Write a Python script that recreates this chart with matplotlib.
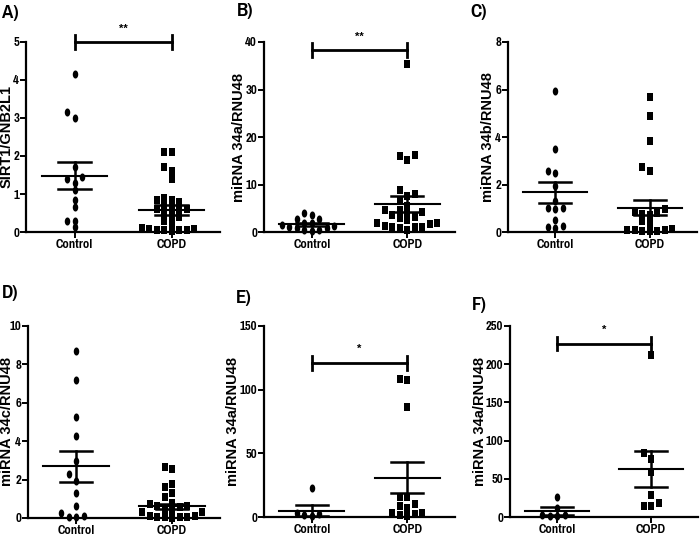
"""Column scatter plots (mean +/- SEM) for SIRT1 and miRNA-34 levels, Control vs COPD."""

import matplotlib
matplotlib.use("Agg")
import matplotlib.pyplot as plt
import numpy as np
from matplotlib import font_manager
from matplotlib.path import Path


GROUPS = ["Control", "COPD"]

# Panel A: SIRT1/GNB2L1
A_CONTROL = [4.15, 3.15, 3.0, 1.7, 1.45, 1.4, 1.3, 1.1, 0.85, 0.65, 0.3, 0.3, 0.12]
A_COPD = [2.1, 2.1, 1.7, 1.6, 1.4, 0.9, 0.85, 0.85, 0.8, 0.7, 0.65, 0.6, 0.6, 0.6,
          0.5, 0.45, 0.4, 0.3, 0.25, 0.1, 0.08, 0.07, 0.06, 0.05, 0.05, 0.04, 0.03]
A_MEAN = [1.48, 0.59]
A_SEM = [0.35, 0.13]

# Panel B: miRNA 34a/RNU48
B_CONTROL = [3.9, 3.5, 2.8, 2.7, 2.0, 1.8, 1.5, 1.2, 1.0, 0.9, 0.8, 0.5, 0.4, 0.3]
B_COPD = [35.3, 16.3, 15.9, 15.2, 8.8, 8.1, 7.6, 6.7, 5.5, 4.6, 4.6, 4.2, 4.0,
          3.5, 3.2, 3.0, 2.5, 1.9, 1.8, 1.7, 1.2, 1.1, 1.0, 1.0, 0.9, 0.5]
B_MEAN = [1.6, 5.9]
B_SEM = [0.35, 1.7]

# Panel C: miRNA 34b/RNU48
C_CONTROL = [5.95, 3.5, 2.55, 2.5, 1.95, 1.3, 1.0, 1.0, 0.95, 0.5, 0.25, 0.15, 0.2]
C_COPD = [5.7, 4.9, 3.85, 2.75, 2.55, 0.95, 0.85, 0.8, 0.75, 0.7, 0.45, 0.4,
          0.12, 0.1, 0.08, 0.07, 0.06, 0.05, 0.04]
C_MEAN = [1.67, 1.02]
C_SEM = [0.45, 0.32]

# Panel D: miRNA 34c/RNU48
D_CONTROL = [8.7, 7.2, 5.25, 4.25, 2.95, 2.3, 1.95, 1.3, 0.6, 0.08, 0.05, 0.07, 0.25]
D_COPD = [2.65, 2.55, 1.75, 1.6, 1.3, 1.1, 0.8, 0.75, 0.65, 0.6, 0.55, 0.45, 0.4,
          0.3, 0.3, 0.1, 0.08, 0.06, 0.05, 0.04, 0.03, 0.02]
D_MEAN = [2.70, 0.60]
D_SEM = [0.80, 0.14]

# Panel E: miRNA 34a/RNU48
E_CONTROL = [22.5, 3.0, 2.0, 1.5, 1.0]
E_COPD = [108.5, 107.5, 86.0, 16.0, 15.5, 10.0, 8.5, 7.0, 3.5, 3.0, 2.0, 1.5, 1.0]
E_MEAN = [5.0, 30.8]
E_SEM = [4.6, 12.2]

# Panel F: miRNA 34a/RNU48
F_CONTROL = [26.0, 12.0, 3.0, 2.0, 1.5, 1.0]
F_COPD = [212.0, 84.0, 76.0, 59.0, 29.0, 18.0, 14.0, 14.0]
F_MEAN = [7.8, 62.8]
F_SEM = [5.0, 23.0]

PANELS = [
    ("A)", "SIRT1/GNB2L1", A_CONTROL, A_COPD, A_MEAN, A_SEM, 5, 1, (5.0, "**")),
    ("B)", "miRNA 34a/RNU48", B_CONTROL, B_COPD, B_MEAN, B_SEM, 40, 10, (38.3, "**")),
    ("C)", "miRNA 34b/RNU48", C_CONTROL, C_COPD, C_MEAN, C_SEM, 8, 2, None),
    ("D)", "miRNA 34c/RNU48", D_CONTROL, D_COPD, D_MEAN, D_SEM, 10, 2, None),
    ("E)", "miRNA 34a/RNU48", E_CONTROL, E_COPD, E_MEAN, E_SEM, 150, 50, (121.0, "*")),
    ("F)", "miRNA 34a/RNU48", F_CONTROL, F_COPD, F_MEAN, F_SEM, 250, 50, (227.0, "*")),
]

# axes boxes in figure pixels: left, right, top, bottom
BOXES = [
    (26, 220, 42, 232), (264, 455, 42, 232), (508, 697, 42, 232),
    (28, 220, 326, 518), (264, 455, 326, 517), (510, 698, 326, 517),
]
LABEL_POS = [(2, 13), (237, 11), (470, 12), (2, 293), (236, 298), (472, 305)]
# right edge (x pixel) of each rotated y label
YLABEL_X = [14, 246, 495, 14, 240, 487]

W, H = 700, 538

# the source figure is squashed horizontally, so markers are tall ovals
_t = np.linspace(0, 2 * np.pi, 40)
OVAL = Path(np.column_stack([0.34 * np.cos(_t), 0.5 * np.sin(_t)]), closed=True)
TALL_SQUARE = Path([(-0.33, -0.5), (0.33, -0.5), (0.33, 0.5), (-0.33, 0.5), (-0.33, -0.5)],
                   closed=True)


def _narrow_font():
    """Find a bold condensed/narrow sans font file, if one is installed."""
    best = None
    for f in font_manager.fontManager.ttflist:
        narrow = ("Narrow" in f.name or "Condensed" in f.name
                  or f.stretch in ("condensed", "semi-condensed", "extra-condensed"))
        bold = f.weight in (700, "bold")
        if narrow and bold and "Mono" not in f.name and "Serif" not in f.name:
            if best is None or "Narrow" in f.name:
                best = f
    return best.fname if best is not None else None


def swarm(values, px_x, px_y, step=7.5, height=6.8):
    """Simple beeswarm: spread overlapping points sideways (in data units)."""
    values = np.asarray(values, dtype=float)
    offsets = np.zeros(len(values))
    placed = []
    steps = [0]
    for k in range(1, 40):
        steps += [-k * 0.5, k * 0.5]
    for i in np.argsort(values):
        y = values[i] * px_y
        for s in steps:
            x = s * step
            if all(abs(x - px) >= 0.95 * step or abs(y - py) >= height for px, py in placed):
                break
        placed.append((x, y))
        offsets[i] = x / px_x
    return offsets


def main() -> None:
    plt.rcParams["font.family"] = ["Liberation Sans", "DejaVu Sans"]
    narrow_file = _narrow_font()
    if narrow_file:
        tick_fp = font_manager.FontProperties(fname=narrow_file, size=10)
        tag_fp = font_manager.FontProperties(fname=narrow_file, size=15)
    else:
        tick_fp = font_manager.FontProperties(family="Liberation Sans", weight="bold", size=8.5)
        tag_fp = font_manager.FontProperties(family="Liberation Sans", weight="bold", size=12)

    fig = plt.figure(figsize=(W / 100, H / 100), dpi=100)

    for (tag, ylabel, ctrl, copd, mean, sem, ymax, ystep, sig), box, lpos, ylx in zip(
        PANELS, BOXES, LABEL_POS, YLABEL_X
    ):
        left, right, top, bottom = box
        ax = fig.add_axes([left / W, 1 - bottom / H, (right - left) / W, (bottom - top) / H])
        ax.set_xlim(-0.5, 1.5)
        ax.set_ylim(0, ymax)

        px_x = (right - left) / 2.0
        px_y = (bottom - top) / ymax

        for pos, vals, marker in ((0, ctrl, OVAL), (1, copd, TALL_SQUARE)):
            off = swarm(vals, px_x, px_y)
            ax.plot(pos + off, vals, linestyle="none", marker=marker, markersize=5.8,
                    color="black", markeredgewidth=0, clip_on=False, zorder=3)
            m, s = mean[pos], sem[pos]
            ax.plot([pos - 0.34, pos + 0.34], [m, m], color="black", lw=1.5, zorder=4)
            ax.plot([pos - 0.17, pos + 0.17], [m + s, m + s], color="black", lw=1.8, zorder=4)
            ax.plot([pos - 0.17, pos + 0.17], [m - s, m - s], color="black", lw=1.8, zorder=4)
            ax.plot([pos, pos], [m - s, m + s], color="black", lw=1.8, zorder=4)

        if sig is not None:
            ybar, stars = sig
            tick = ymax * 0.035
            ax.plot([0, 1], [ybar, ybar], color="black", lw=2, clip_on=False)
            ax.plot([0, 0], [ybar - tick, ybar + tick], color="black", lw=2, clip_on=False)
            ax.plot([1, 1], [ybar - tick, ybar + tick], color="black", lw=2, clip_on=False)
            ax.text(0.5, ybar + ymax * 0.045, stars, ha="center", va="bottom",
                    fontsize=8, fontweight="bold", clip_on=False)

        for side in ("top", "right"):
            ax.spines[side].set_visible(False)
        for side in ("left", "bottom"):
            ax.spines[side].set_linewidth(1.6)

        ax.set_yticks(np.arange(0, ymax + ystep / 2, ystep))
        ax.set_xticks([0, 1])
        ax.set_xticklabels(GROUPS)
        ax.tick_params(axis="both", direction="out", length=4, width=1.4, pad=1)
        for lbl in ax.get_xticklabels() + ax.get_yticklabels():
            lbl.set_fontproperties(tick_fp)

        ax.set_ylabel(ylabel, fontsize=10.5, fontweight="bold")
        ax.yaxis.set_label_coords((ylx - left) / (right - left), 0.5)

        fig.text(lpos[0] / W, 1 - lpos[1] / H, tag, fontproperties=tag_fp,
                 ha="left", va="center")

    fig.savefig("out.png", dpi=100)
    plt.close(fig)


if __name__ == "__main__":
    main()
